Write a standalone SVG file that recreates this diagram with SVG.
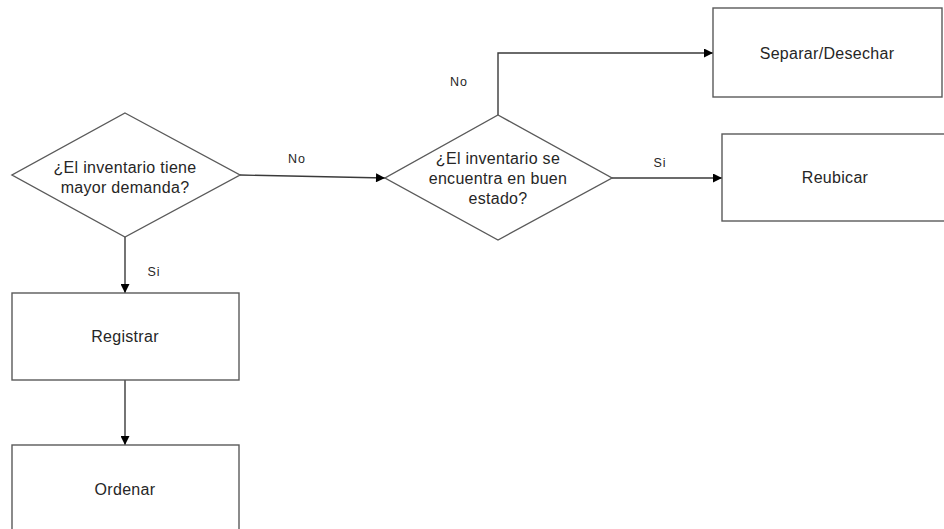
<svg xmlns="http://www.w3.org/2000/svg" width="944" height="529" viewBox="0 0 944 529">
  <style>
    .shape { fill: #ffffff; stroke: #5a5a5a; stroke-width: 1.4; }
    .txt { font-family: "Liberation Sans", Arial, sans-serif; font-size: 16px; letter-spacing: 0.3px; fill: #262626; text-anchor: middle; }
    .lbl { font-family: "Liberation Sans", Arial, sans-serif; font-size: 12.5px; letter-spacing: 1px; fill: #262626; text-anchor: middle; }
    .edge { fill: none; stroke: #3a3a3a; stroke-width: 1.4; }
  </style>
  <defs>
    <marker id="arrow" viewBox="0 0 10 10" refX="10" refY="5" markerWidth="10" markerHeight="9" markerUnits="userSpaceOnUse" orient="auto">
      <path d="M0,0 L10,5 L0,10 z" fill="#000000"/>
    </marker>
  </defs>
  <rect width="944" height="529" fill="#ffffff"/>

  <!-- connectors -->
  <g id="connectors">
    <path class="edge" d="M240,175 L385,178" marker-end="url(#arrow)"/>
    <path class="edge" d="M498,115 L498,53 L713,53" marker-end="url(#arrow)"/>
    <path class="edge" d="M612,178 L722,178" marker-end="url(#arrow)"/>
    <path class="edge" d="M125,237 L125,293" marker-end="url(#arrow)"/>
    <path class="edge" d="M125,380 L125,445" marker-end="url(#arrow)"/>
    <text class="lbl" x="297" y="163">No</text>
    <text class="lbl" x="459" y="86">No</text>
    <text class="lbl" x="660" y="167">Si</text>
    <text class="lbl" x="154" y="276">Si</text>
  </g>

  <!-- decision: demand -->
  <g id="decision-demanda">
    <polygon class="shape" points="125,113 240,175 125,237 12,175"/>
    <text class="txt" x="125" y="173">¿El inventario tiene</text>
    <text class="txt" x="125" y="193">mayor demanda?</text>
  </g>

  <!-- decision: condition -->
  <g id="decision-estado">
    <polygon class="shape" points="498,115 612,178 498,240 385,178"/>
    <text class="txt" x="498" y="164">¿El inventario se</text>
    <text class="txt" x="498" y="184">encuentra en buen</text>
    <text class="txt" x="498" y="204">estado?</text>
  </g>

  <g id="separar">
    <rect class="shape" x="713" y="8" width="229" height="89"/>
    <text class="txt" x="827" y="59">Separar/Desechar</text>
  </g>

  <g id="reubicar">
    <rect class="shape" x="722" y="134" width="226" height="87"/>
    <text class="txt" x="835" y="183">Reubicar</text>
  </g>

  <g id="registrar">
    <rect class="shape" x="12" y="293" width="227" height="87"/>
    <text class="txt" x="125" y="342">Registrar</text>
  </g>

  <g id="ordenar">
    <rect class="shape" x="12" y="445" width="227" height="90"/>
    <text class="txt" x="125" y="495">Ordenar</text>
  </g>
</svg>
